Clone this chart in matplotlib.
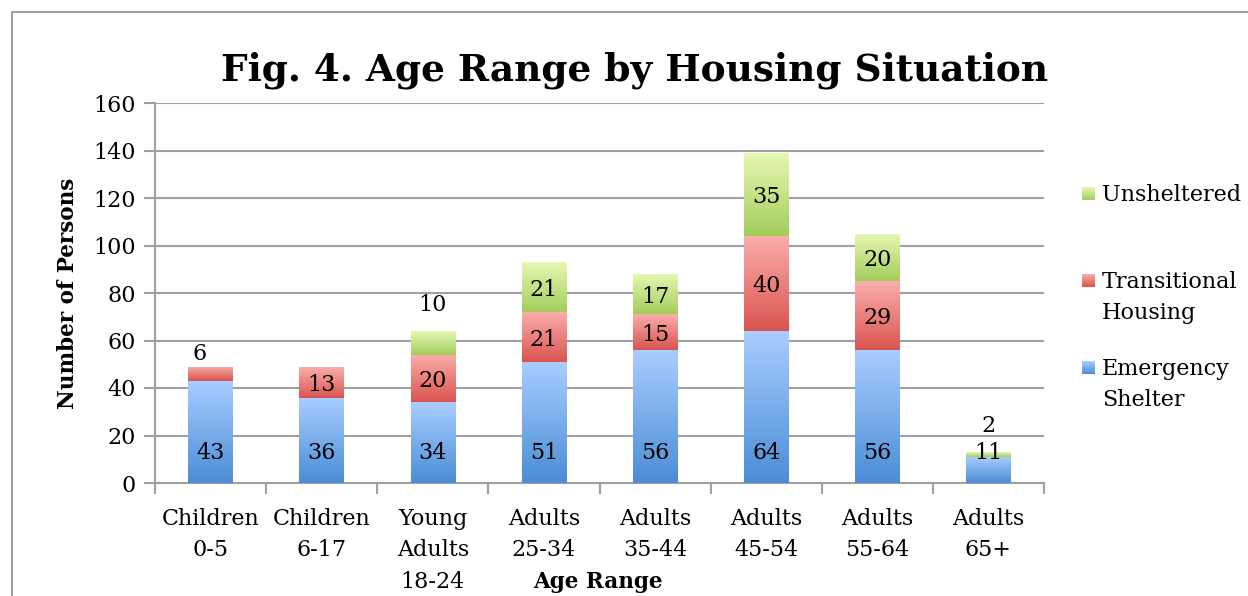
import numpy as np
import matplotlib
matplotlib.use('Agg')
import matplotlib.pyplot as plt
from matplotlib.colors import LinearSegmentedColormap
from matplotlib.patches import Rectangle

plt.rcParams['font.family'] = ['DejaVu Serif']

categories = ['Children\n0-5', 'Children\n6-17', 'Young\nAdults\n18-24', 'Adults\n25-34',
              'Adults\n35-44', 'Adults\n45-54', 'Adults\n55-64', 'Adults\n65+']
emergency = [43, 36, 34, 51, 56, 64, 56, 11]
transitional = [6, 13, 20, 21, 15, 40, 29, 0]
unsheltered = [0, 0, 10, 21, 17, 35, 20, 2]

series_names = ['Emergency\nShelter', 'Transitional\nHousing', 'Unsheltered']
# (bottom colour, top colour) for each gradient
grad_colors = [('#4a8dd6', '#aacdff'), ('#d9544f', '#fbaeac'), ('#a3cd5b', '#e6f8b4')]

W, H = 1248, 596
fig = plt.figure(figsize=(W/100, H/100), dpi=100)
ax = fig.add_axes([155/W, 1 - 483/H, (1044-155)/W, 380/H])

# outer chart border
fig.patches.append(Rectangle((12/W, -0.1), 1.2, 1 - 12/H + 0.1, transform=fig.transFigure,
                             fill=False, edgecolor='#a0a0a0', lw=1.5))

x = np.arange(len(categories))
width = 0.4
grad = np.linspace(0, 1, 256).reshape(-1, 1)
cmaps = [LinearSegmentedColormap.from_list('g%d' % i, list(c)) for i, c in enumerate(grad_colors)]

def gradBars(vals, bottoms, cmap):
  bars = ax.bar(x, vals, width, bottom=bottoms, color='none', edgecolor='none', zorder=3)
  for b in bars:
    if b.get_height() <= 0:
      continue
    x0, y0 = b.get_x(), b.get_y()
    im = ax.imshow(grad, extent=[x0, x0 + b.get_width(), y0, y0 + b.get_height()],
                   origin='lower', aspect='auto', cmap=cmap, zorder=3)
    im.set_clip_path(b)
  return bars

fs = 16
bottom = np.zeros(len(x))
stacks = [emergency, transitional, unsheltered]
for i, vals in enumerate(stacks):
  gradBars(vals, bottom, cmaps[i])
  for j, v in enumerate(vals):
    if v <= 0:
      continue
    if i == 0:
      # emergency labels sit at the base of the bar
      ax.annotate(str(v), xy=(x[j], 0), xytext=(0, 14), textcoords='offset points',
                  ha='center', va='bottom', fontsize=fs, zorder=5)
    elif v < 12:
      # small slices get their label above the bar
      top = bottom[j] + v
      dx, dy = (-8, 1) if i == 1 else (0, 11)
      ax.annotate(str(v), xy=(x[j], top), xytext=(dx, dy), textcoords='offset points',
                  ha='center', va='bottom', fontsize=fs, zorder=5)
    else:
      ax.annotate(str(v), xy=(x[j], bottom[j] + v / 2), xytext=(0, -2), textcoords='offset points',
                  ha='center', va='center', fontsize=fs, zorder=5)
  bottom += np.array(vals)

ax.set_xlim(-0.5, len(x) - 0.5)
ax.set_ylim(0, 160)
ax.set_yticks(range(0, 161, 20))
ax.yaxis.grid(True, color='#a0a0a0', lw=1.5, zorder=0)
ax.set_axisbelow(True)
ax.set_xticks(x)
ax.set_xticklabels(categories, fontsize=fs, va='top', linespacing=1.55)
ax.set_xticks(np.arange(-0.5, len(x), 1), minor=True)
ax.tick_params(axis='x', which='major', length=0, pad=18)
ax.tick_params(axis='x', which='minor', length=8, width=1.5, color='#a0a0a0')
ax.tick_params(axis='y', length=8, width=1.5, color='#a0a0a0', labelsize=fs, pad=6)
for s in ['top', 'right']:
  ax.spines[s].set_visible(False)
for s in ['left', 'bottom']:
  ax.spines[s].set_color('#a0a0a0')
  ax.spines[s].set_linewidth(1.5)

ax.set_ylabel('Number of Persons', fontsize=15.5, fontweight='bold', labelpad=10)
fig.text(598/W, 1 - 582/H, 'Age Range', fontsize=15.5, fontweight='bold',
         ha='center', va='center')
fig.text(635/W, 1 - 70/H, 'Fig. 4. Age Range by Housing Situation', fontsize=27,
         fontweight='bold', ha='center', va='center')

# legend, drawn by hand so the uneven spacing matches
legend_tops = [187, 274, 361]
for name, cmap, top in zip(reversed(series_names), reversed(cmaps), legend_tops):
  sq = fig.add_axes([1082/W, 1 - (top + 13)/H, 13/W, 13/H])
  sq.imshow(grad, origin='lower', aspect='auto', cmap=cmap)
  sq.set_axis_off()
  fig.text(1102/W, 1 - (top - 3)/H, name, fontsize=fs, ha='left', va='top',
           linespacing=1.55)

fig.savefig('out.png', dpi=100)
